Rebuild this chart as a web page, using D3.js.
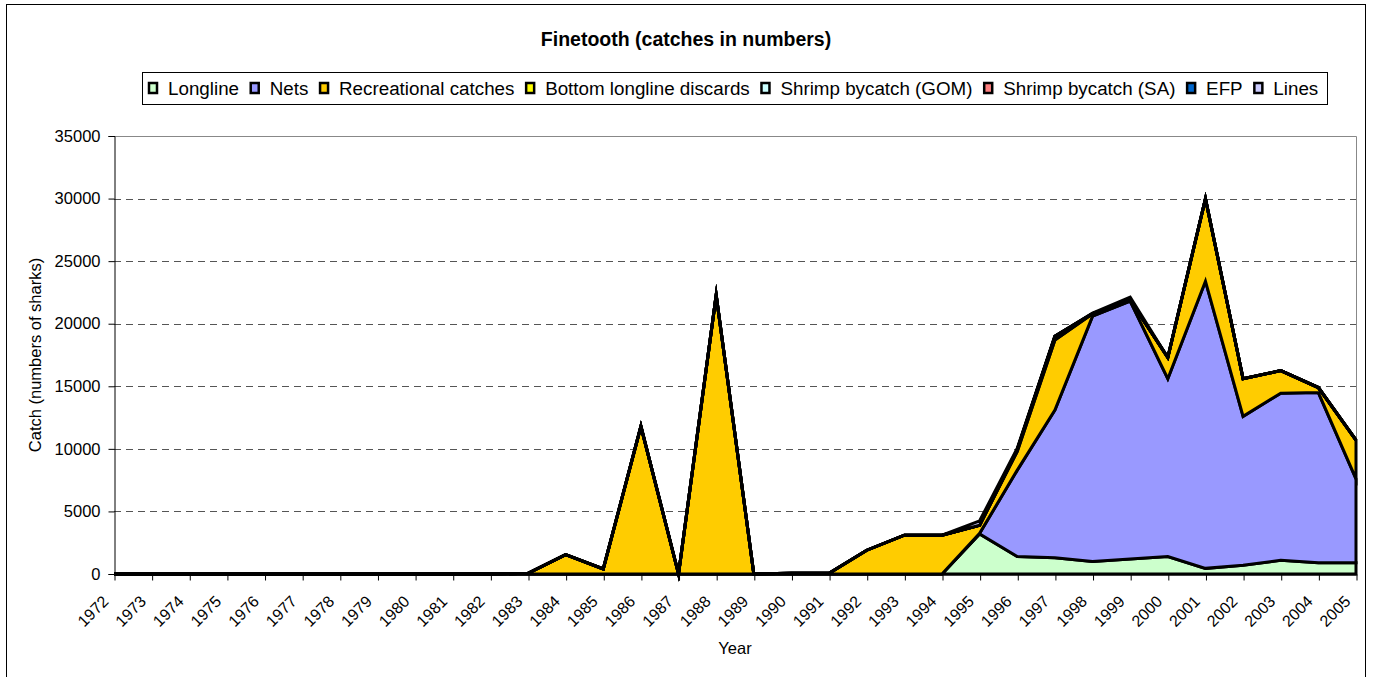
<!DOCTYPE html>
<html>
<head>
<meta charset="utf-8">
<script src="https://cdn.jsdelivr.net/npm/d3@7"></script>
<style>
  body { margin: 0; background: #fff; }
  text { font-family: Arial, "Liberation Sans", sans-serif; fill: #000; }
</style>
</head>
<body>
<div id="chart"></div>
<script>
// chart values
var years = [1972, 1973, 1974, 1975, 1976, 1977, 1978, 1979, 1980, 1981, 1982,
             1983, 1984, 1985, 1986, 1987, 1988, 1989, 1990, 1991, 1992, 1993,
             1994, 1995, 1996, 1997, 1998, 1999, 2000, 2001, 2002, 2003, 2004, 2005];

var longline = [0, 0, 0, 0, 0, 0, 0, 0, 0, 0, 0,
                0, 0, 0, 0, 0, 0, 0, 0, 0, 0, 0,
                0, 3200, 1400, 1300, 1000, 1200, 1400, 450, 700, 1100, 900, 900];
var nets = [0, 0, 0, 0, 0, 0, 0, 0, 0, 0, 0,
            0, 0, 0, 0, 0, 0, 0, 0, 0, 0, 0,
            0, 50, 6900, 11800, 19600, 20600, 14200, 22950, 11900, 13350, 13600, 6700];
var recreational = [0, 0, 0, 0, 0, 0, 0, 0, 0, 0, 0,
                    60, 1550, 400, 11800, 0, 22300, 0, 60, 60, 1900, 3100,
                    3100, 650, 1500, 5600, 200, 80, 1700, 6600, 3000, 1800, 400, 3100];
var bllDiscards = [0, 0, 0, 0, 0, 0, 0, 0, 0, 0, 0,
                   0, 0, 0, 0, 0, 0, 0, 0, 0, 0, 0,
                   0, 0, 150, 300, 0, 0, 0, 0, 0, 0, 0, 0];
var shrimpGOM = [0, 0, 0, 0, 0, 0, 0, 0, 0, 0, 0,
                 0, 0, 0, 0, 0, 0, 0, 0, 0, 0, 0,
                 0, 0, 0, 0, 0, 0, 0, 0, 0, 0, 0, 0];
var shrimpSA = [0, 0, 0, 0, 0, 0, 0, 0, 0, 0, 0,
                0, 0, 0, 0, 0, 0, 0, 0, 0, 0, 0,
                0, 0, 0, 0, 0, 0, 0, 0, 0, 0, 0, 0];
var efp = [0, 0, 0, 0, 0, 0, 0, 0, 0, 0, 0,
           0, 0, 0, 0, 0, 0, 0, 0, 0, 0, 0,
           0, 0, 0, 0, 0, 0, 0, 0, 0, 0, 0, 0];
var lines = [0, 0, 0, 0, 0, 0, 0, 0, 0, 0, 0,
             0, 0, 0, 0, 0, 0, 0, 0, 0, 0, 0,
             0, 350, 100, 0, 50, 250, 0, 0, 0, 0, 0, 0];

var seriesNames = ["Longline", "Nets", "Recreational catches", "Bottom longline discards",
                   "Shrimp bycatch (GOM)", "Shrimp bycatch (SA)", "EFP", "Lines"];
var seriesValues = [longline, nets, recreational, bllDiscards, shrimpGOM, shrimpSA, efp, lines];
var seriesColors = ["#CCFFCC", "#9999FF", "#FFCC00", "#FFFF00", "#CCFFFF", "#FF8080", "#0066CC", "#CCCCFF"];
var yTicks = [0, 5000, 10000, 15000, 20000, 25000, 30000, 35000];

var W = 1373, H = 677;
var plot = {left: 114, right: 1356, top: 136, bottom: 574};

var svg = d3.select("#chart").append("svg")
    .attr("width", W)
    .attr("height", H);

// outer chart frame
svg.append("rect")
    .attr("x", 6.5).attr("y", 4.5)
    .attr("width", 1359).attr("height", 680)
    .style("fill", "#fff")
    .style("stroke", "#000")
    .style("stroke-width", 1);

var x = d3.scalePoint().domain(years).range([plot.left, plot.right]);
var y = d3.scaleLinear().domain([0, 35000]).range([plot.bottom, plot.top]);

// grid lines
svg.append("g")
    .selectAll("line.grid")
    .data(yTicks.filter(function(d){ return d > 0 && d < 35000; })).enter()
  .append("line")
    .attr("class", "grid")
    .attr("x1", plot.left).attr("x2", plot.right)
    .attr("y1", d => Math.round(y(d)) + 0.5)
    .attr("y2", d => Math.round(y(d)) + 0.5)
    .style("stroke", "#555")
    .style("stroke-dasharray", "7,5");

// plot border top / right (grey)
svg.append("path")
    .attr("d", "M" + plot.left + "," + (plot.top + 0.5) + "H" + (plot.right + 0.5) + "V" + plot.bottom)
    .style("fill", "none")
    .style("stroke", "#888")
    .style("stroke-width", 1);

// stacked areas
var rows = years.map(function(yr, i){
  var r = {year: yr};
  seriesNames.forEach(function(n, k){ r[n] = seriesValues[k][i]; });
  return r;
});
var stacked = d3.stack().keys(seriesNames)(rows);

var area = d3.area()
    .x(d => x(d.data.year))
    .y0(d => y(d[0]))
    .y1(d => y(d[1]));

svg.append("g")
    .attr("class", "areas")
    .selectAll("path")
    .data(stacked).enter()
  .append("path")
    .attr("d", area)
    .style("fill", (d, i) => seriesColors[i])
    .style("stroke", "#000")
    .style("stroke-width", 3)
    .style("stroke-linejoin", "miter")
    .style("stroke-miterlimit", 10);

// y axis
var yAxis = svg.append("g")
    .attr("transform", "translate(" + (plot.left + 0.5) + ",0)")
    .call(d3.axisLeft(y).tickValues(yTicks).tickSize(6).tickPadding(8).tickFormat(d3.format("d")));
yAxis.select(".domain").style("stroke", "#000");
yAxis.selectAll("line").style("stroke", "#000");
yAxis.selectAll("text")
    .style("font-size", "16.5px")
    .style("font-family", "Arial, 'Liberation Sans', sans-serif");

// x axis
var xAxis = svg.append("g")
    .attr("transform", "translate(0," + (plot.bottom + 0.5) + ")")
    .call(d3.axisBottom(x).tickSize(6).tickSizeOuter(0));
xAxis.select(".domain").style("stroke", "#000");
xAxis.selectAll("line").style("stroke", "#000").attr("transform", "translate(0.5,0)");
xAxis.selectAll("text")
    .style("font-size", "16px")
    .style("font-family", "Arial, 'Liberation Sans', sans-serif")
    .style("text-anchor", "end")
    .attr("dy", null)
    .attr("y", 0)
    .attr("transform", "translate(-5,28) rotate(-45)");

// axis titles
svg.append("text")
    .attr("x", (plot.left + plot.right) / 2)
    .attr("y", 654)
    .style("font-size", "16.5px")
    .style("text-anchor", "middle")
    .text("Year");

svg.append("text")
    .attr("transform", "translate(41," + ((plot.top + plot.bottom) / 2) + ") rotate(-90)")
    .style("font-size", "16.5px")
    .style("text-anchor", "middle")
    .text("Catch (numbers of sharks)");

// title
svg.append("text")
    .attr("x", 686)
    .attr("y", 46)
    .style("font-size", "19.5px")
    .style("font-weight", "bold")
    .style("text-anchor", "middle")
    .text("Finetooth (catches in numbers)");

// legend
var legend = svg.append("g").attr("class", "legend");
legend.append("rect")
    .attr("x", 142.5).attr("y", 72.5)
    .attr("width", 1185).attr("height", 32)
    .style("fill", "#fff")
    .style("stroke", "#000");

var lx = 149;
seriesNames.forEach(function(n, i){
  legend.append("rect")
      .attr("x", lx).attr("y", 83)
      .attr("width", 8).attr("height", 10)
      .style("fill", seriesColors[i])
      .style("stroke", "#000")
      .style("stroke-width", 2.5);
  var t = legend.append("text")
      .attr("x", lx + 19)
      .attr("y", 95)
      .style("font-size", "18.8px")
      .text(n);
  lx += 19 + t.node().getComputedTextLength() + 11.7;
});
</script>
</body>
</html>
